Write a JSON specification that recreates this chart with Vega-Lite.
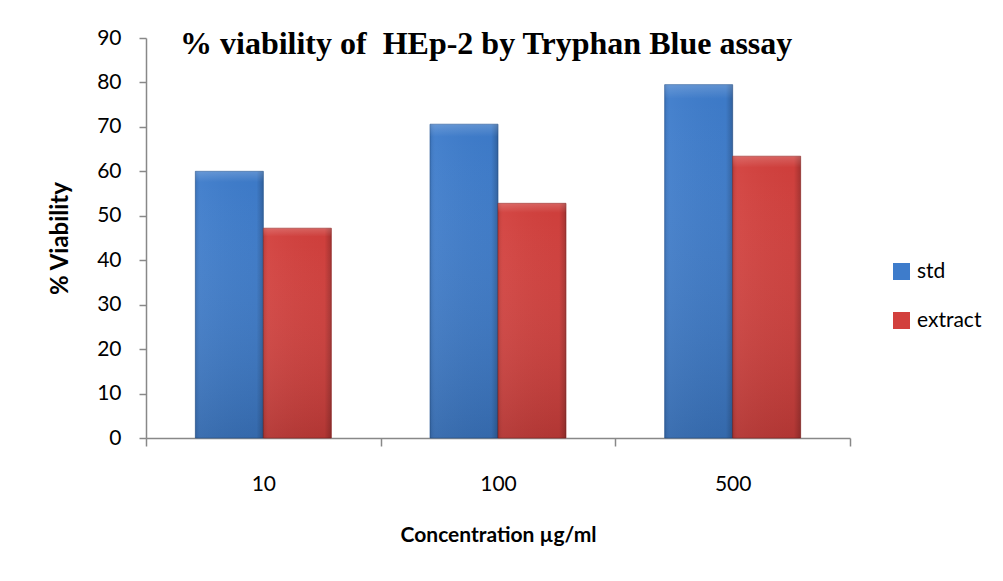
{
  "$schema": "https://vega.github.io/schema/vega-lite/v6.json",
  "width": 704,
  "height": 400,
  "autosize": {"type": "none"},
  "padding": {"left": 146, "top": 38, "right": 153, "bottom": 143},
  "background": "white",
  "config": {"view": {"stroke": null}},
  "title": {
    "text": "% viability of \u00a0HEp-2 by Tryphan Blue assay",
    "font": "Liberation Serif",
    "fontSize": 32,
    "fontWeight": "bold",
    "color": "black",
    "anchor": "start",
    "frame": "group",
    "dx": 34,
    "dy": 38
  },
  "data": {
    "values": [
      {"conc": "10", "series": "std", "value": 60.0},
      {"conc": "10", "series": "extract", "value": 47.2},
      {"conc": "100", "series": "std", "value": 70.6},
      {"conc": "100", "series": "extract", "value": 52.8},
      {"conc": "500", "series": "std", "value": 79.5},
      {"conc": "500", "series": "extract", "value": 63.4}
    ]
  },
  "encoding": {
    "x": {
      "field": "conc",
      "type": "ordinal",
      "sort": ["10", "100", "500"],
      "scale": {"paddingInner": 0, "paddingOuter": 0},
      "axis": {
        "title": "Concentration µg/ml",
        "titleFont": "Lato",
        "titleFontSize": 21,
        "titleFontWeight": "bold",
        "titleColor": "black",
        "titlePadding": 30,
        "labelAngle": 0,
        "labelFont": "Lato",
        "labelFontSize": 21,
        "labelColor": "black",
        "labelPadding": 27,
        "tickBand": "extent",
        "tickSize": 8,
        "tickColor": "#888888",
        "tickWidth": 1.5,
        "domainColor": "#888888",
        "domainWidth": 1.5,
        "grid": false
      }
    },
    "xOffset": {
      "field": "series",
      "sort": ["std", "extract"],
      "scale": {"paddingInner": 0, "paddingOuter": 0.726}
    },
    "y": {
      "field": "value",
      "type": "quantitative",
      "scale": {"domain": [0, 90], "nice": false},
      "axis": {
        "title": "% Viability",
        "titleFont": "Lato",
        "titleFontSize": 24,
        "titleFontWeight": "bold",
        "titleColor": "black",
        "titlePadding": 24,
        "values": [0, 10, 20, 30, 40, 50, 60, 70, 80, 90],
        "labelFont": "Lato",
        "labelFontSize": 21,
        "labelColor": "black",
        "labelPadding": 18,
        "tickSize": 7,
        "tickColor": "#888888",
        "tickWidth": 1.5,
        "domainColor": "#888888",
        "domainWidth": 1.5,
        "grid": false
      }
    }
  },
  "layer": [
    {
      "mark": {"type": "bar", "strokeWidth": 1, "strokeOpacity": 0.7},
      "encoding": {
        "color": {
          "field": "series",
          "type": "nominal",
          "scale": {"domain": ["std", "extract"], "range": ["#3E7CCB", "#D2403D"]},
          "legend": {
            "orient": "none",
            "legendX": 745,
            "legendY": 223,
            "padding": 0,
            "title": null,
            "symbolType": "square",
            "symbolSize": 289,
            "symbolStrokeWidth": 0,
            "labelFont": "Lato",
            "labelFontSize": 21,
            "labelColor": "black",
            "labelOffset": 5,
            "rowPadding": 27
          }
        },
        "stroke": {
          "field": "series",
          "type": "nominal",
          "scale": {"domain": ["std", "extract"], "range": ["#2E5E9A", "#9A2E2C"]},
          "legend": null
        }
      }
    },
    {
      "mark": {
        "type": "bar",
        "fill": {
          "gradient": "linear",
          "x1": 0, "y1": 0, "x2": 1, "y2": 0,
          "stops": [
            {"offset": 0, "color": "rgba(0,0,0,0.10)"},
            {"offset": 0.08, "color": "rgba(255,255,255,0.04)"},
            {"offset": 0.9, "color": "rgba(0,0,0,0.02)"},
            {"offset": 1, "color": "rgba(0,0,0,0.22)"}
          ]
        }
      },
      "encoding": {}
    },
    {
      "mark": {
        "type": "bar",
        "fill": {
          "gradient": "linear",
          "x1": 0, "y1": 0, "x2": 0, "y2": 1,
          "stops": [
            {"offset": 0, "color": "rgba(255,255,255,0.18)"},
            {"offset": 0.04, "color": "rgba(255,255,255,0.0)"},
            {"offset": 1, "color": "rgba(0,0,0,0.14)"}
          ]
        }
      },
      "encoding": {}
    }
  ]
}
